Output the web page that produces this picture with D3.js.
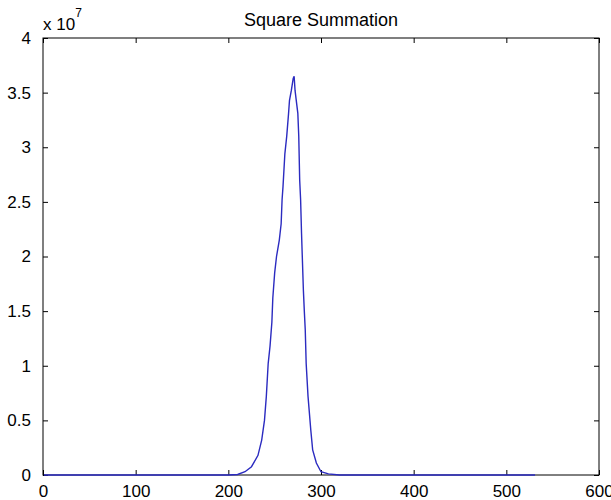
<!DOCTYPE html>
<html>
<head>
<meta charset="utf-8">
<script src="https://cdn.jsdelivr.net/npm/d3@7"></script>
<style>
  body { margin: 0; background: #fff; }
  svg text { font-family: "Liberation Sans Narrow", "Liberation Sans", Arial, sans-serif; fill: #000; }
  .tick line { stroke: #000; }
</style>
</head>
<body>
<div id="chart"></div>
<script>
var width = 611, height = 500;
var margin = { t: 38, r: 12, b: 25, l: 43 };

// Curve samples (x index, value / 1e7)
var xVals = [1, 200, 210, 218, 225, 232, 236, 239, 241, 243, 245, 247, 248, 250, 252, 255, 257, 258, 259, 261, 263, 265, 266, 268, 270, 271,
             272, 273, 275, 276, 277, 278, 279, 281, 282, 283, 284, 286, 289, 291, 295, 300, 308, 320, 531];
var yVals = [0, 0, 0.005, 0.03, 0.076, 0.18, 0.32, 0.50, 0.72, 1.02, 1.18, 1.40, 1.62, 1.85, 2.00, 2.15, 2.30, 2.52, 2.64, 2.94, 3.10, 3.31, 3.43, 3.52, 3.63, 3.65,
             3.52, 3.45, 3.31, 3.10, 2.70, 2.52, 2.21, 1.69, 1.50, 1.33, 1.02, 0.72, 0.41, 0.23, 0.11, 0.03, 0.01, 0, 0];

var xTicks = [0, 100, 200, 300, 400, 500, 600];
var yTicks = [0, 0.5, 1, 1.5, 2, 2.5, 3, 3.5, 4];
var title = "Square Summation";

var data = xVals.map((x, i) => ({ x: x, y: yVals[i] * 1e7 }));

var svg = d3.select("#chart").append("svg")
    .attr("width", width)
    .attr("height", height);

var x = d3.scaleLinear().domain([0, 600]).range([margin.l, width - margin.r]);
var y = d3.scaleLinear().domain([0, 4e7]).range([height - margin.b, margin.t]);

//MATLAB style: ticks point inward, box on all four sides
var axBottom = svg.append("g").attr("transform", `translate(0, ${y(0)})`)
    .call(d3.axisBottom(x).tickValues(xTicks).tickSize(-5).tickPadding(10).tickFormat(d3.format("d")));
var axTop = svg.append("g").attr("transform", `translate(0, ${y(4e7)})`)
    .call(d3.axisTop(x).tickValues(xTicks).tickSize(-5).tickFormat(""));
var axLeft = svg.append("g").attr("transform", `translate(${x(0)}, 0)`)
    .call(d3.axisLeft(y).tickValues(yTicks.map(v => v * 1e7)).tickSize(-5).tickPadding(12).tickFormat(d => d3.format("")(d / 1e7)));
var axRight = svg.append("g").attr("transform", `translate(${x(600)}, 0)`)
    .call(d3.axisRight(y).tickValues(yTicks.map(v => v * 1e7)).tickSize(-5).tickFormat(""));

[axBottom, axTop, axLeft, axRight].forEach(g => {
    g.select(".domain").remove();
    g.selectAll("text").style("font-size", "17px").attr("fill", "#000");
});

// plain box lines
svg.append("rect")
    .attr("x", x(0)).attr("y", y(4e7))
    .attr("width", x(600) - x(0)).attr("height", y(0) - y(4e7))
    .attr("fill", "none").attr("stroke", "#000").attr("stroke-width", 1);

svg.append("path")
    .datum(data)
    .attr("fill", "none")
    .attr("stroke", "#2b2bc0")
    .attr("stroke-width", 1.4)
    .attr("d", d3.line().x(d => x(d.x)).y(d => y(d.y)));

svg.append("text")
    .attr("x", (x(0) + x(600)) / 2)
    .attr("y", 26)
    .attr("text-anchor", "middle")
    .style("font-size", "18px")
    .text(title);

var expo = svg.append("text")
    .attr("x", 43)
    .attr("y", 30)
    .style("font-size", "17px");
expo.append("tspan").text("x 10");
expo.append("tspan").attr("dy", -13).style("font-size", "12px").text("7");
</script>
</body>
</html>
